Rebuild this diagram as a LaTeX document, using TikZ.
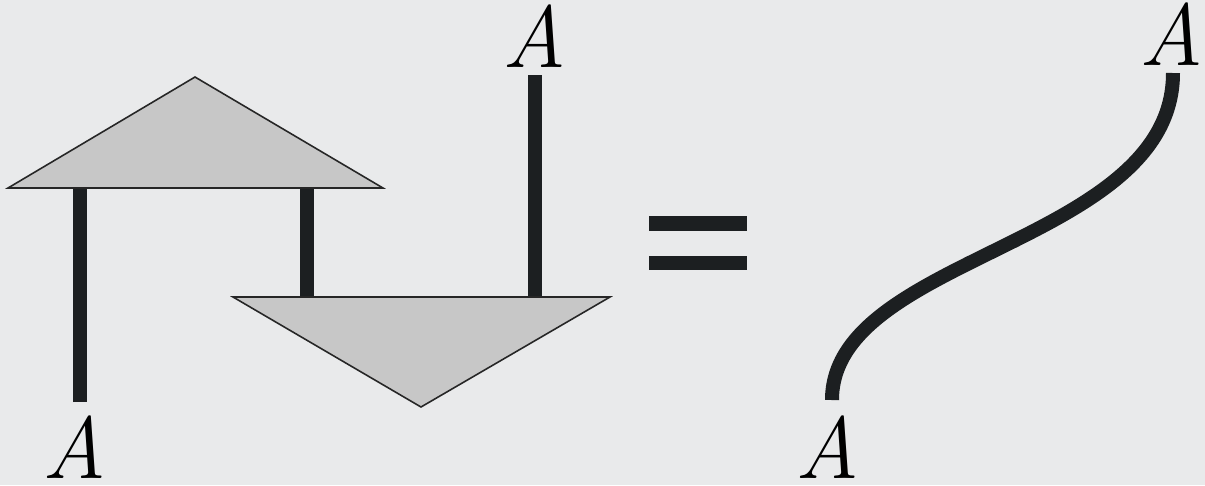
\documentclass[tikz,border=0pt]{standalone}
\usepackage{fontspec}
\usetikzlibrary{positioning}

\definecolor{paper}{HTML}{E9EAEB}
\definecolor{boxfill}{HTML}{C7C7C7}
\definecolor{wirecol}{HTML}{1C1F21}

\begin{document}
\begin{tikzpicture}[x=0.02cm, y=-0.02cm,
    wire/.style={draw=wirecol, line width=0.28cm},
    box/.style={fill=boxfill, draw=black!85, line width=0.9pt, line join=miter},
    obj/.style={font=\fontsize{50}{50}\selectfont\itshape, inner sep=0pt, outer sep=0pt}]

  \fill[paper] (0,0) rectangle (1205,485);
  \useasboundingbox (0,0) rectangle (1205,485);

  % labels
  \node[obj, anchor=base] (aL)  at (74,478)   {A};
  \node[obj, anchor=base] (aM)  at (534,67)   {A};
  \node[obj, anchor=base] (aR0) at (827,478)  {A};
  \node[obj, anchor=base] (aR1) at (1171,65)  {A};

  % triangle corners
  \coordinate (upL) at (8,188);
  \coordinate (upR) at (383,188);
  \coordinate (upT) at (195,77);
  \coordinate (dnL) at (233,297);
  \coordinate (dnR) at (610,297);
  \coordinate (dnB) at (421,407);

  % wire ends
  \coordinate (w1a) at (80,402);
  \coordinate (w1b) at (80,188);
  \coordinate (w2a) at (307,188);
  \coordinate (w2b) at (307,297);
  \coordinate (w3a) at (535,297);
  \coordinate (w3b) at (535,75);

  \draw[wire] (w1a) -- (w1b);
  \draw[wire] (w2a) -- (w2b);
  \draw[wire] (w3a) -- (w3b);

  \draw[box] (upL) -- (upT) -- (upR) -- cycle;
  \draw[box] (dnL) -- (dnR) -- (dnB) -- cycle;

  % equals sign
  \coordinate (e1l) at (649,223.5);
  \coordinate (e1r) at (747,223.5);
  \coordinate (e2l) at (649,263);
  \coordinate (e2r) at (747,263);
  \draw[draw=wirecol, line width=0.3cm] (e1l) -- (e1r);
  \draw[draw=wirecol, line width=0.28cm] (e2l) -- (e2r);

  % identity wire
  \coordinate (s0) at (832,400);
  \coordinate (s1) at (1173,73);
  \draw[wire] (s0) .. controls (832,255) and (1173,245) .. (s1);

\end{tikzpicture}
\end{document}
